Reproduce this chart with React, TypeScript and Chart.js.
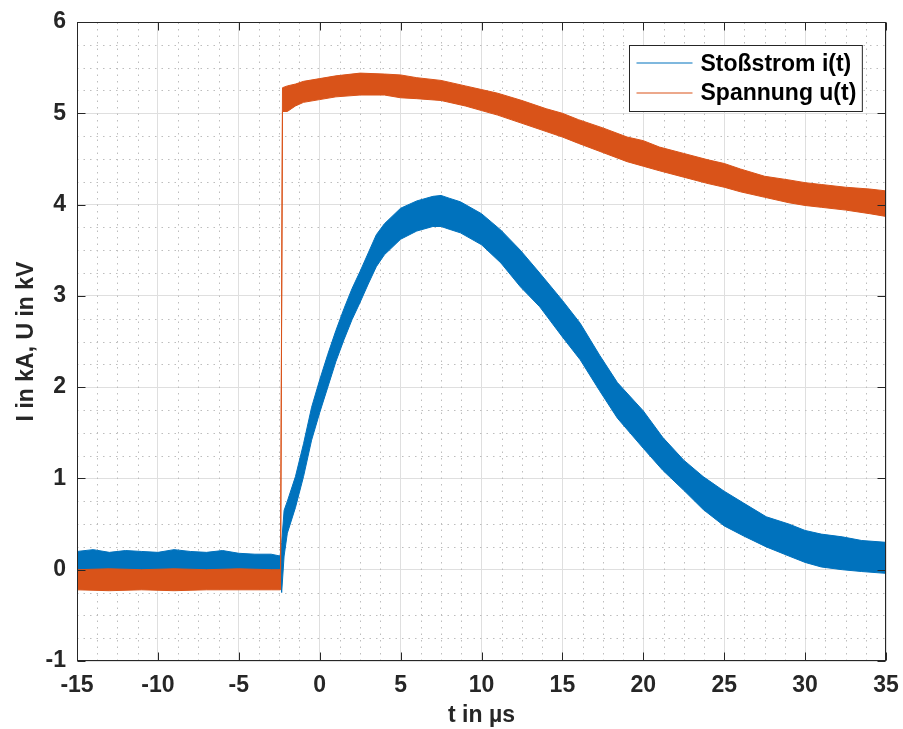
import React, { useEffect, useRef } from "react";
import { Chart, registerables } from "chart.js";

Chart.register(...registerables);

// ---------- data ----------
// Stoßstrom i(t): noise band, lower and upper edge (kA) at time t (µs)
const currentT = [-15, -14, -13, -12, -11, -10, -9, -8, -7, -6, -5, -4, -3, -2.45, -2.35, -2.2, -2.0, -1.5, -1.0, -0.5, 0, 0.5, 1, 1.5, 2, 2.5, 3, 3.5, 4, 5, 6, 7, 7.5, 8, 8.7, 10, 11.2, 12.4, 13.6, 15, 16.1, 17.3, 18.4, 20, 21.2, 22.5, 23.7, 25, 26.2, 27.6, 29, 30, 31, 32.3, 33.5, 35];
const currentLow = [-0.05, -0.05, -0.05, -0.05, -0.05, -0.05, -0.05, -0.05, -0.05, -0.05, -0.05, -0.05, -0.05, -0.05, -0.25, 0.15, 0.4, 0.68, 1.02, 1.42, 1.72, 2.0, 2.28, 2.52, 2.74, 2.93, 3.13, 3.32, 3.45, 3.62, 3.71, 3.76, 3.76, 3.73, 3.69, 3.56, 3.36, 3.1, 2.88, 2.55, 2.3, 1.96, 1.66, 1.33, 1.09, 0.87, 0.66, 0.48, 0.37, 0.25, 0.15, 0.08, 0.03, 0.0, -0.02, -0.04];
const currentHigh = [0.2, 0.22, 0.19, 0.21, 0.2, 0.19, 0.22, 0.2, 0.19, 0.21, 0.18, 0.17, 0.17, 0.15, 0.3, 0.65, 0.75, 1.02, 1.38, 1.78, 2.08, 2.36, 2.62, 2.86, 3.08, 3.27, 3.47, 3.67, 3.79, 3.96, 4.04, 4.09, 4.1, 4.07, 4.03, 3.9, 3.72, 3.5, 3.25, 2.95, 2.7, 2.35, 2.05, 1.74, 1.45, 1.2, 1.02, 0.86, 0.73, 0.58, 0.5, 0.43, 0.39, 0.36, 0.32, 0.3];

// Spannung u(t): noise band, lower and upper edge (kV) at time t (µs)
const voltageT = [-15, -13, -11, -9, -7, -5, -3, -2.42, -2.3, -2.0, -1.5, -1, 0, 1, 2.5, 4, 5, 6, 7.5, 9, 10, 11, 12.5, 14, 15, 16, 17.5, 19, 20, 21, 22.5, 24, 25, 26, 27.5, 29, 30, 31, 32.5, 34, 35];
const voltageLow = [-0.22, -0.23, -0.22, -0.23, -0.22, -0.22, -0.22, -0.22, 5.02, 5.02, 5.08, 5.12, 5.15, 5.18, 5.2, 5.2, 5.17, 5.16, 5.14, 5.08, 5.03, 4.98, 4.89, 4.8, 4.74, 4.67, 4.57, 4.47, 4.42, 4.37, 4.3, 4.23, 4.19, 4.14, 4.08, 4.02, 3.99, 3.97, 3.94, 3.9, 3.87];
const voltageHigh = [0.0, 0.01, 0.0, 0.01, 0.0, 0.01, 0.0, 0.0, 5.28, 5.3, 5.32, 5.35, 5.38, 5.41, 5.44, 5.43, 5.42, 5.39, 5.36, 5.3, 5.26, 5.22, 5.14, 5.05, 5.0, 4.93, 4.84, 4.74, 4.7, 4.63, 4.56, 4.49, 4.45, 4.39, 4.31, 4.27, 4.24, 4.22, 4.19, 4.17, 4.15];

const seriesLabels = ["Stoßstrom i(t)", "Spannung u(t)"];
const seriesColors = ["#0072BD", "#D95319"];

const xTickValues = [-15, -10, -5, 0, 5, 10, 15, 20, 25, 30, 35];
const yTickValues = [-1, 0, 1, 2, 3, 4, 5, 6];
const xMinorStep = 1.25;
const yMinorStep = 0.25;
const xTitle = "t in µs";
const yTitle = "I in kA, U in kV";

// ---------- style ----------
const FONT = "'Liberation Sans', Arial, Helvetica, sans-serif";
const TEXT = "#262626";
const FS = 23;

const toPts = (xs: number[], ys: number[]) => xs.map((x, i) => ({ x, y: ys[i] }));

const minorGridPlugin = {
  id: "minorGrid",
  beforeDatasetsDraw(chart: any) {
    const { ctx, chartArea: a, scales } = chart;
    const xs = scales.x, ys = scales.y;
    ctx.save();
    ctx.strokeStyle = "#bdbdbd";
    ctx.lineWidth = 1;
    ctx.setLineDash([1.5, 5]);
    for (let v = xs.min; v <= xs.max + 1e-9; v += xMinorStep) {
      if (xTickValues.some((t) => Math.abs(t - v) < 1e-9)) continue;
      const p = Math.round(xs.getPixelForValue(v)) + 0.5;
      ctx.beginPath();
      ctx.moveTo(p, a.bottom);
      ctx.lineTo(p, a.top);
      ctx.stroke();
    }
    for (let v = ys.min; v <= ys.max + 1e-9; v += yMinorStep) {
      if (yTickValues.some((t) => Math.abs(t - v) < 1e-9)) continue;
      const p = Math.round(ys.getPixelForValue(v)) + 0.5;
      ctx.beginPath();
      ctx.moveTo(a.left, p);
      ctx.lineTo(a.right, p);
      ctx.stroke();
    }
    ctx.restore();
  },
};

const boxPlugin = {
  id: "axesBox",
  afterDatasetsDraw(chart: any) {
    const { ctx, chartArea: a, scales } = chart;
    const L = Math.round(a.left) + 0.5, R = Math.round(a.right) - 0.5;
    const T = Math.round(a.top) + 0.5, B = Math.round(a.bottom) - 0.5;
    ctx.save();
    ctx.strokeStyle = TEXT;
    ctx.lineWidth = 1;
    ctx.setLineDash([]);
    ctx.strokeRect(L, T, R - L, B - T);
    const tl = 8;
    ctx.beginPath();
    xTickValues.forEach((v) => {
      const p = Math.round(scales.x.getPixelForValue(v)) + 0.5;
      ctx.moveTo(p, B); ctx.lineTo(p, B - tl);
      ctx.moveTo(p, T); ctx.lineTo(p, T + tl);
    });
    yTickValues.forEach((v) => {
      const p = Math.round(scales.y.getPixelForValue(v)) + 0.5;
      ctx.moveTo(L, p); ctx.lineTo(L + tl, p);
      ctx.moveTo(R, p); ctx.lineTo(R - tl, p);
    });
    ctx.stroke();
    ctx.restore();
  },
};

const legendPlugin = {
  id: "insideLegend",
  afterDraw(chart: any) {
    const { ctx, chartArea: a } = chart;
    const items = chart.data.datasets.filter((d: any) => d.legendEntry);
    ctx.save();
    ctx.setLineDash([]);
    ctx.font = `bold ${FS}px ${FONT}`;
    const tw = Math.max(...items.map((d: any) => ctx.measureText(d.label).width));
    const padL = 7, lineW = 56, gap = 8, padR = 6;
    const w = padL + lineW + gap + tw + padR;
    const rowH = 29.6;
    const h = 66;
    const right = a.right - 24;
    const left = Math.round(right - w) + 0.5;
    const top = Math.round(a.top + 23) + 0.5;
    ctx.fillStyle = "#ffffff";
    ctx.fillRect(left, top, w, h);
    ctx.strokeStyle = TEXT;
    ctx.lineWidth = 1;
    ctx.strokeRect(left, top, w, h);
    items.forEach((d: any, i: number) => {
      const cy = top + 17.7 + i * rowH;
      ctx.strokeStyle = d.legendColor;
      ctx.lineWidth = 1.2;
      ctx.beginPath();
      ctx.moveTo(left + padL, Math.round(cy));
      ctx.lineTo(left + padL + lineW, Math.round(cy));
      ctx.stroke();
      ctx.fillStyle = "#000000";
      ctx.textBaseline = "middle";
      ctx.textAlign = "left";
      ctx.fillText(d.label, left + padL + lineW + gap, cy + 1);
    });
    ctx.restore();
  },
};

function band(label: string, color: string, xs: number[], lo: number[], hi: number[], order: number) {
  return [
    {
      label,
      legendEntry: true,
      legendColor: color,
      data: toPts(xs, hi),
      borderColor: color,
      backgroundColor: color,
      borderWidth: 1,
      pointRadius: 0,
      tension: 0,
      fill: "+1",
      order,
    },
    {
      label: label + " (unten)",
      legendEntry: false,
      legendColor: color,
      data: toPts(xs, lo),
      borderColor: color,
      backgroundColor: color,
      borderWidth: 1,
      pointRadius: 0,
      tension: 0,
      fill: false,
      order,
    },
  ];
}

export default function App() {
  const ref = useRef<HTMLCanvasElement>(null);
  useEffect(() => {
    const tickFont = { family: FONT, size: FS, weight: "bold" as const };
    const chart = new Chart(ref.current!, {
      type: "line",
      data: {
        datasets: [
          ...band(seriesLabels[0], seriesColors[0], currentT, currentLow, currentHigh, 2),
          ...band(seriesLabels[1], seriesColors[1], voltageT, voltageLow, voltageHigh, 1),
        ] as any,
      },
      options: {
        responsive: false,
        animation: false,
        devicePixelRatio: 1,
        layout: { padding: { top: 22, right: 17, left: 0, bottom: 0 } },
        plugins: { legend: { display: false }, tooltip: { enabled: false } },
        scales: {
          x: {
            type: "linear",
            min: -15,
            max: 35,
            afterBuildTicks: (s: any) => { s.ticks = xTickValues.map((value) => ({ value })); },
            afterFit: (s: any) => { s.height = 68; s.paddingLeft = 0; s.paddingRight = 0; },
            ticks: { font: tickFont, color: TEXT, padding: 11, maxRotation: 0, autoSkip: false },
            grid: { color: "#dfdfdf", lineWidth: 1, drawTicks: false },
            border: { display: false },
            title: { display: true, text: xTitle, font: tickFont, color: TEXT, padding: { top: 0, bottom: 0 } },
          },
          y: {
            type: "linear",
            min: -1,
            max: 6,
            afterBuildTicks: (s: any) => { s.ticks = yTickValues.map((value) => ({ value })); },
            afterFit: (s: any) => { s.width = 77; s.paddingTop = 0; s.paddingBottom = 0; },
            ticks: { font: tickFont, color: TEXT, padding: 11, autoSkip: false },
            grid: { color: "#dfdfdf", lineWidth: 1, drawTicks: false },
            border: { display: false },
            title: { display: true, text: yTitle, font: tickFont, color: TEXT, padding: { top: 13, bottom: 0 } },
          },
        },
      },
      plugins: [minorGridPlugin, boxPlugin, legendPlugin],
    } as any);
    return () => chart.destroy();
  }, []);
  return (
    <div style={{ position: "fixed", left: 0, top: 0, width: 903, height: 729, background: "#ffffff" }}>
      <canvas ref={ref} width={903} height={729} style={{ display: "block", width: 903, height: 729 }} />
    </div>
  );
}
